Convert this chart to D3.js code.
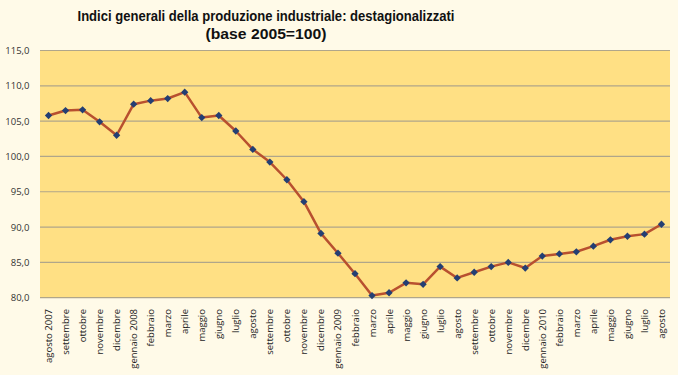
<!DOCTYPE html>
<html><head><meta charset="utf-8">
<script src="https://cdn.jsdelivr.net/npm/d3@7"></script>
<style>html,body{margin:0;padding:0;background:#FFFAE8;}svg{display:block;}</style>
</head><body>
<script>
const categories = ["agosto 2007","settembre","ottobre","novembre","dicembre","gennaio 2008","febbraio","marzo","aprile","maggio","giugno","luglio","agosto","settembre","ottobre","novembre","dicembre","gennaio 2009","febbraio","marzo","aprile","maggio","giugno","luglio","agosto","settembre","ottobre","novembre","dicembre","gennaio 2010","febbraio","marzo","aprile","maggio","giugno","luglio","agosto"];
const values = [105.8,106.5,106.6,104.9,103.0,107.4,107.9,108.2,109.1,105.5,105.8,103.6,101.0,99.2,96.7,93.6,89.1,86.3,83.4,80.3,80.7,82.1,81.9,84.4,82.8,83.6,84.4,85.0,84.2,85.9,86.2,86.5,87.3,88.2,88.7,89.0,90.4];
const yTicks = [80,85,90,95,100,105,110,115];
const titleLines = ["Indici generali della produzione industriale: destagionalizzati","(base 2005=100)"];

const W = 678, H = 375;
const m = {left: 40, right: 8, top: 50.5, bottom: 77.3};
const svg = d3.select("body").append("svg").attr("width", W).attr("height", H);
svg.append("rect").attr("width", W).attr("height", H).attr("fill", "#FFFAE8");

const x = d3.scaleBand().domain(d3.range(categories.length)).range([m.left, W - m.right]);
const y = d3.scaleLinear().domain([80, 115]).range([H - m.bottom, m.top]);

svg.append("rect").attr("x", m.left).attr("y", m.top)
  .attr("width", W - m.right - m.left).attr("height", H - m.bottom - m.top)
  .attr("fill", "#FFE084");

// grid
svg.append("g").selectAll("line").data(yTicks).join("line")
  .attr("x1", m.left).attr("x2", W - m.right)
  .attr("y1", d => y(d)).attr("y2", d => y(d))
  .attr("stroke", "#B0A68A").attr("stroke-width", 1.2);

// y axis labels
const fmt = d => d.toFixed(1).replace(".", ",");
svg.append("g").selectAll("text").data(yTicks).join("text")
  .attr("x", 29.5).attr("y", d => y(d) + 3.5)
  .attr("text-anchor", "end")
  .attr("font-family", "'Open Sans', sans-serif").attr("font-size", 9.5)
  .attr("fill", "#333").text(fmt);

// x labels
svg.append("g").selectAll("text").data(categories).join("text")
  .attr("transform", (d, i) => `translate(${x(i) + x.bandwidth()/2 + 3.5},309) rotate(-90)`)
  .attr("text-anchor", "end")
  .attr("font-family", "'Open Sans', sans-serif").attr("font-size", 9.5)
  .attr("fill", "#222").text(d => d);

// line
const line = d3.line().x((d, i) => x(i) + x.bandwidth()/2).y(d => y(d));
svg.append("path").datum(values).attr("d", line)
  .attr("fill", "none").attr("stroke", "#B8502F").attr("stroke-width", 2.5)
  .attr("stroke-linejoin", "round");

// markers
svg.append("g").selectAll("path").data(values).join("path")
  .attr("transform", (d, i) => `translate(${x(i) + x.bandwidth()/2},${y(d)})`)
  .attr("d", d3.symbol().type(d3.symbolDiamond2).size(34))
  .attr("fill", "#243F73");

// title
svg.append("g").selectAll("text").data(titleLines).join("text")
  .attr("x", 266).attr("y", (d, i) => 21 + i * 17.5)
  .attr("text-anchor", "middle")
  .attr("font-family", "'Liberation Sans', Arial, sans-serif").attr("font-weight", "bold")
  .attr("font-size", 15).attr("fill", "#111")
  .attr("textLength", (d, i) => i === 0 ? 377 : 121)
  .attr("lengthAdjust", "spacingAndGlyphs")
  .text(d => d);
</script>
</body></html>
